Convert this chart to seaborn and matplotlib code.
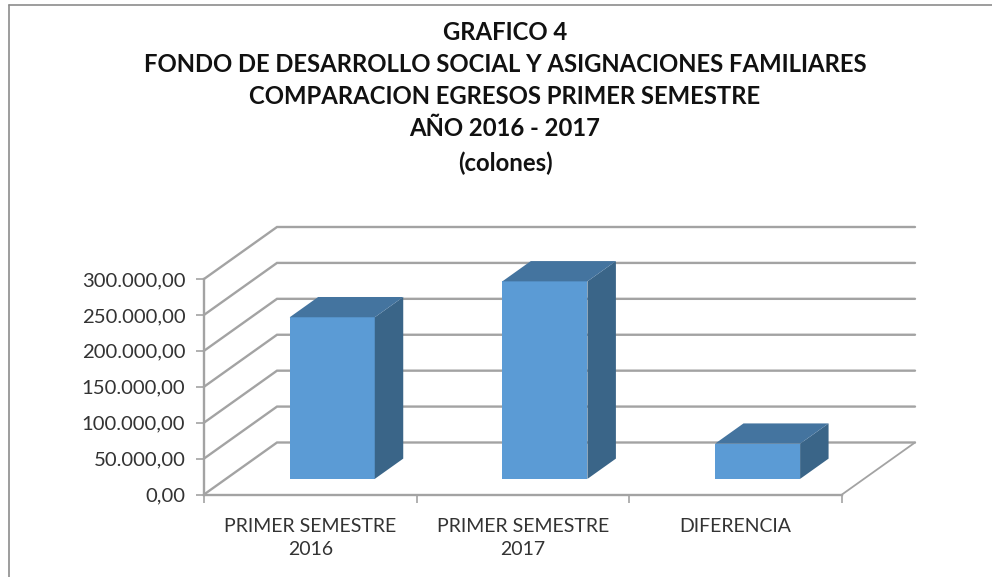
import numpy as np
import pandas as pd
import matplotlib
matplotlib.use('Agg')
import matplotlib.pyplot as plt
from matplotlib.lines import Line2D
from matplotlib.patches import Polygon
import seaborn as sns

# Dati
categorias = ['PRIMER SEMESTRE\n2016', 'PRIMER SEMESTRE\n2017', 'DIFERENCIA']
egresos = [225000, 275000, 49000]
ticks_y = [0, 50000, 100000, 150000, 200000, 250000, 300000]
titulo = ['GRAFICO 4',
          'FONDO DE DESARROLLO SOCIAL Y ASIGNACIONES FAMILIARES',
          'COMPARACION EGRESOS PRIMER SEMESTRE',
          'AÑO 2016 - 2017',
          '(colones)']

W, H = 992, 577
GRIS = '#A3A3A3'
FRENTE, LADO, TAPA = '#5B9BD5', '#3A6588', '#44749F'

sns.set_theme(style='white')
plt.rcParams['font.family'] = ['Lato', 'DejaVu Sans']

fig = plt.figure(figsize=(W / 100, H / 100), dpi=100)
# assi in pixel: x 204-842, y 279-494.5
ax = fig.add_axes([204 / W, 1 - 494.5 / H, 638 / W, 215.5 / H])

df = pd.DataFrame({'categoria': categorias, 'egresos': egresos})
sns.barplot(data=df, x='categoria', y='egresos', color=FRENTE, saturation=1,
            width=0.4, ax=ax, zorder=5, linewidth=0)
ax.set_xlim(-0.5, 2.5)
ax.set_ylim(0, 300000)

# profondita' del pavimento in unita' dati
prof_x = 73 / (638 / 3)
prof_y = 52 / (215.5 / 300000)

# griglia obliqua e parete di fondo
for v in ticks_y:
    ax.plot([-0.5, -0.5 + prof_x, 2.5 + prof_x], [v, v + prof_y, v + prof_y],
            color=GRIS, lw=1.7, clip_on=False, zorder=1, solid_joinstyle='miter')
ax.plot([2.5, 2.5 + prof_x], [0, prof_y], color=GRIS, lw=1.3, clip_on=False, zorder=1)

# barre spostate dentro il pavimento, con lato e tapa
sx, sy = 0.30 * prof_x, 0.30 * prof_y
dx, dy = 0.39 * prof_x, 0.39 * prof_y
for bar in ax.patches[:len(egresos)]:
    x0 = bar.get_x() + sx
    x1 = x0 + bar.get_width()
    y0 = sy
    y1 = sy + bar.get_height()
    bar.set_x(x0)
    bar.set_y(y0)
    bar.set_clip_on(False)
    ax.add_patch(Polygon([(x1, y0), (x1 + dx, y0 + dy), (x1 + dx, y1 + dy), (x1, y1)],
                         facecolor=LADO, edgecolor='none', clip_on=False, zorder=5))
    ax.add_patch(Polygon([(x0, y1), (x0 + dx, y1 + dy), (x1 + dx, y1 + dy), (x1, y1)],
                         facecolor=TAPA, edgecolor='none', clip_on=False, zorder=5))

# assi
ax.patch.set_alpha(0)
sns.despine(ax=ax)
for lado in ['left', 'bottom']:
    ax.spines[lado].set_color(GRIS)
    ax.spines[lado].set_linewidth(1.7)

ax.set_xlabel('')
ax.set_ylabel('')
ax.set_yticks(ticks_y)
ax.set_yticklabels([f'{v:,.2f}'.replace(',', 'X').replace('.', ',').replace('X', '.') for v in ticks_y])
ax.set_xticks([-0.5, 0.5, 1.5, 2.5], minor=True)
ax.tick_params(axis='x', which='minor', length=6, width=1.2, color=GRIS, bottom=True)
ax.tick_params(axis='x', which='major', length=0, pad=17, labelsize=14, labelcolor='#333333')
ax.tick_params(axis='y', length=6, width=1.2, color=GRIS, left=True, pad=7.5, labelsize=14.6,
               labelcolor='#333333')
for t in ax.get_xticklabels():
    t.set_linespacing(1.45)

# titolo
for riga, yp in zip(titulo, [32, 64, 97, 129, 163]):
    fig.text(505 / W, 1 - yp / H, riga, ha='center', va='center',
             fontsize=17.2, fontweight='bold', color='#111111')

# bordo dell'area del grafico
fig.add_artist(Line2D([9 / W, 1], [1 - 5 / H, 1 - 5 / H], color='#8C8C8C', lw=1.2))
fig.add_artist(Line2D([9 / W, 9 / W], [0, 1 - 5 / H], color='#8C8C8C', lw=1.2))

fig.savefig('out.png', dpi=100)
